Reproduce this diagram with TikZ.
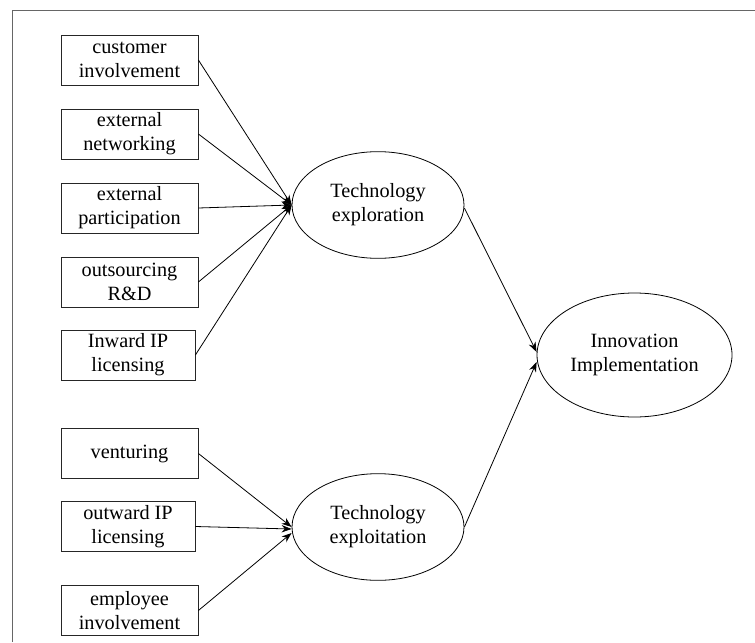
\documentclass[tikz,border=0pt]{standalone}
\usepackage{fontspec}
\setmainfont{Liberation Serif}
\usetikzlibrary{shapes.geometric,arrows.meta}
\begin{document}
\begin{tikzpicture}[x=0.75pt,y=-0.75pt,
  every node/.style={font=\fontsize{15.2}{18}\selectfont, align=center, inner sep=0pt},
  box/.style={draw=black!85, line width=0.6pt, minimum width=102.75pt, minimum height=37.5pt},
  boxn/.style={box, minimum width=100.5pt},
  lat/.style={ellipse, draw, line width=0.6pt, minimum width=129pt, minimum height=80pt},
  arr/.style={-{Stealth[length=7.5pt,width=5.5pt]}, line width=0.6pt}
]
\useasboundingbox (0,0) rectangle (755,642);
\draw[black!60, line width=1.1pt] (12.5,642) -- (12.5,10.5) -- (755,10.5);

\node[box]  (cust) at (129.5,60)  {customer\\involvement};
\node[box]  (netw) at (129.5,134) {external\\networking};
\node[box]  (part) at (129.5,208) {external\\participation};
\node[box]  (outs) at (129.5,282) {outsourcing\\R\&D};
\node[boxn] (inwd) at (128,355)   {Inward IP\\licensing};
\node[box]  (vent) at (129.5,453.5) {venturing};
\node[boxn] (outw) at (128,526.5) {outward IP\\licensing};
\node[box]  (empl) at (129.5,610.5) {employee\\involvement};

\node[lat] (explo) at (378,205) {Technology\\exploration};
\node[lat] (expt)  at (378,527) {Technology\\exploitation};
\node[lat, minimum width=146.25pt, minimum height=93pt] (inno) at (634.5,355) {Innovation\\Implementation};

\foreach \s in {cust,netw,part,outs,inwd}
  \draw[arr] (\s.east) -- (explo.west);
\draw[arr] (vent.east) -- (expt.west);
\draw[arr] (outw.east) -- ([shift={(0,2)}]expt.west);
\draw[arr] (empl.east) -- ([shift={(0,6)}]expt.west);

\draw[arr] ([shift={(0,3)}]explo.east) -- ([shift={(0,-3)}]inno.west);
\draw[arr] (expt.east) -- ([shift={(0,7)}]inno.west);
\end{tikzpicture}
\end{document}
